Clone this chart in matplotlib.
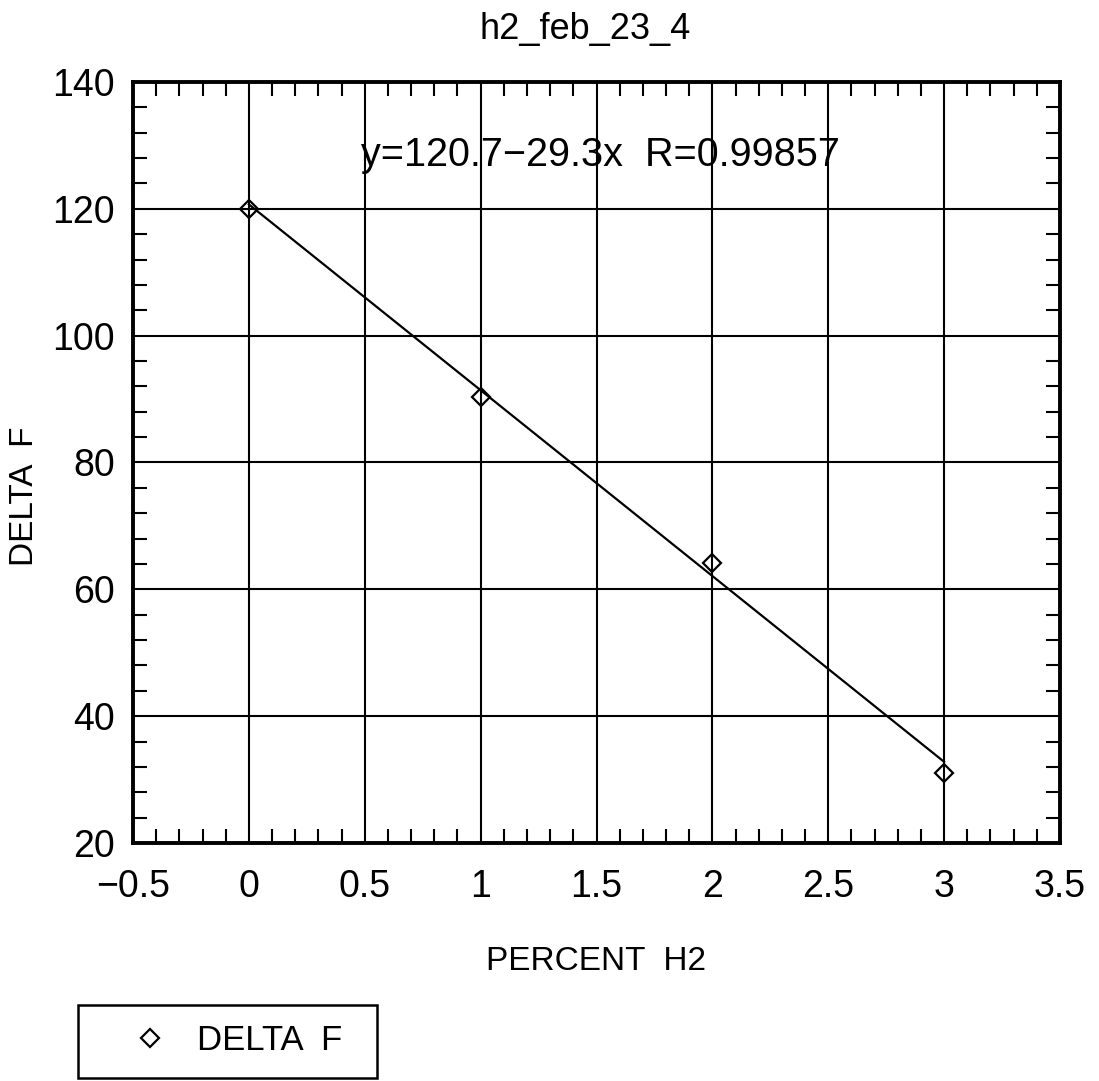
import numpy as np
import matplotlib.pyplot as plt
from matplotlib.patches import Rectangle
from matplotlib.ticker import MultipleLocator

# data
percent_h2 = [0, 1, 2, 3]
delta_f = [120.0, 90.4, 64.1, 31.0]
fit_intercept = 120.7
fit_slope = -29.3
fit_label = "y=120.7\u221229.3x  R=0.99857"

plt.rcParams['font.family'] = ['Liberation Sans', 'DejaVu Sans']

W, H = 1099, 1081
fig = plt.figure(figsize=(W / 100, H / 100), dpi=100)
ax = fig.add_axes([133 / W, 1 - 843 / H, 927 / W, 761 / H])

xs = np.array([percent_h2[0], percent_h2[-1]])
ax.plot(xs, fit_intercept + fit_slope * xs, color='black', lw=1.6, zorder=3)
ax.plot(percent_h2, delta_f, linestyle='none', marker='D', markersize=9,
        markerfacecolor='none', markeredgecolor='black', markeredgewidth=1.6,
        label='DELTA  F', zorder=4)

ax.set_xlim(-0.5, 3.5)
ax.set_ylim(20, 140)
ax.xaxis.set_major_locator(MultipleLocator(0.5))
ax.xaxis.set_minor_locator(MultipleLocator(0.1))
ax.yaxis.set_major_locator(MultipleLocator(20))
ax.yaxis.set_minor_locator(MultipleLocator(4))
ax.set_xticklabels(['\u22120.5' if t < 0 else f'{t:g}' for t in ax.get_xticks()])

ax.grid(True, which='major', color='black', lw=1.5)
ax.tick_params(which='both', direction='in', top=True, right=True,
               labelsize=27, width=1.5, color='black')
ax.tick_params(which='major', length=0)
ax.tick_params(axis='x', which='major', pad=19)
ax.tick_params(axis='y', which='major', pad=13)
ax.tick_params(which='minor', length=10)
for s in ax.spines.values():
    s.set_linewidth(2.8)

ax.text(1.515, 128.5, fit_label, ha='center', va='center', fontsize=28.5)
ax.set_xlabel('PERCENT  H2', fontsize=24, labelpad=29)
ax.set_ylabel('DELTA  F', fontsize=24)
ax.yaxis.set_label_coords(-0.1, 0.456)
ax.set_title('h2_feb_23_4', fontsize=26, pad=31)
ax.title.set_x(0.488)

# legend below the plot, box drawn separately
fig.legend(loc='center left', bbox_to_anchor=(115 / W, 1 - 1041 / H),
           frameon=False, fontsize=25, borderpad=0, handlelength=2.0,
           handletextpad=0.35, borderaxespad=0)
fig.patches.append(Rectangle((78 / W, 1 - 1078 / H), 299 / W, 73 / H,
                             transform=fig.transFigure, fill=False,
                             edgecolor='black', lw=1.8))

fig.savefig('out.png', dpi=100)
